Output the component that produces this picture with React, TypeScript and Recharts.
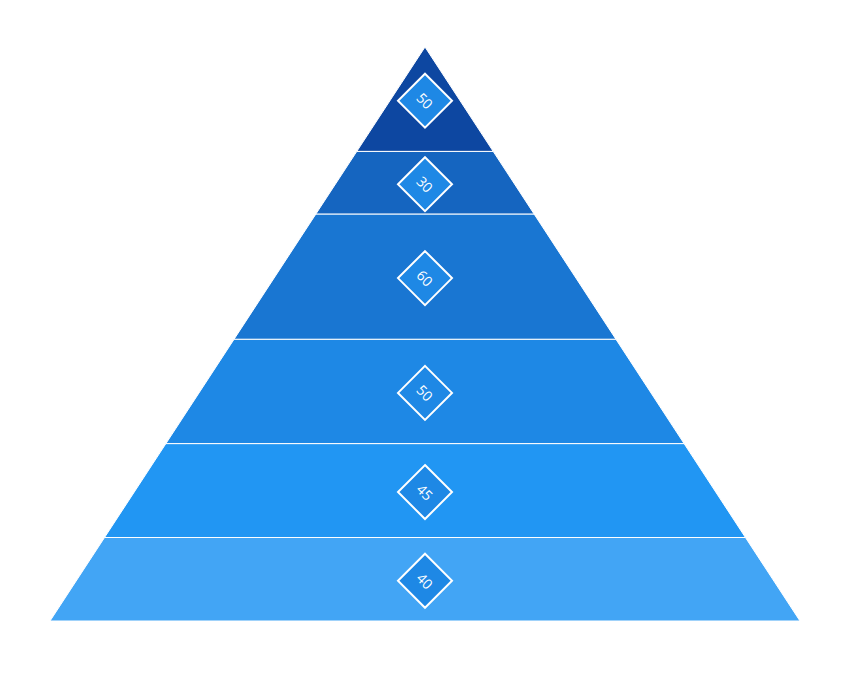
import { BarChart, Bar, XAxis, YAxis } from 'recharts'

// bottom-to-top order (first stacked series sits at the base)
const layerNames = ['L1', 'L2', 'L3', 'L4', 'L5', 'L6']
const layerValues = [40, 45, 50, 60, 30, 50]
const layerColors = ['#42A5F5', '#2196F3', '#1E88E5', '#1976D2', '#1565C0', '#0D47A1']

const total = layerValues.reduce((a, b) => a + b, 0)
const row: Record<string, string | number> = { name: 'pyramid' }
layerNames.forEach((n, i) => (row[n] = layerValues[i]))
const data = [row]

function makeShape(index: number) {
  const below = layerValues.slice(0, index).reduce((a, b) => a + b, 0)
  const above = total - below - layerValues[index]
  return (props: any) => {
    const { x, y, width, height } = props
    if (!height) return null
    const ppu = height / layerValues[index]
    const apexY = y - above * ppu
    const baseY = y + height + below * ppu
    const cx = x + width / 2
    const half = width / 2
    const hw = (yy: number) => ((yy - apexY) / (baseY - apexY)) * half
    const top = y
    const bot = y + height
    const pts = [
      [cx - hw(top), top],
      [cx + hw(top), top],
      [cx + hw(bot), bot],
      [cx - hw(bot), bot],
    ]
      .map((p) => p.join(','))
      .join(' ')
    const cy = y + height / 2 + 1.5
    const d = 27
    return (
      <g>
        <polygon points={pts} fill={layerColors[index]} stroke="#ffffff" strokeWidth={1} />
        <polygon
          points={`${cx},${cy - d} ${cx + d},${cy} ${cx},${cy + d} ${cx - d},${cy}`}
          fill="#1E88E5"
          stroke="#ffffff"
          strokeWidth={2}
        />
        <text
          x={cx}
          y={cy}
          fill="#ffffff"
          fontSize={14}
          fontFamily="'Open Sans', sans-serif"
          textAnchor="middle"
          dominantBaseline="central"
          transform={`rotate(45 ${cx} ${cy})`}
        >
          {layerValues[index]}
        </text>
      </g>
    )
  }
}

export default function App() {
  return (
    <div style={{ width: 834, height: 659 }}>
      <BarChart
        width={834}
        height={659}
        data={data}
        margin={{ top: 39, right: 42, bottom: 46, left: 42 }}
        barCategoryGap={0}
        barGap={0}
      >
        <XAxis dataKey="name" hide />
        <YAxis hide domain={[0, total]} />
        {layerNames.map((n, i) => (
          <Bar key={n} dataKey={n} stackId="p" shape={makeShape(i)} isAnimationActive={false} />
        ))}
      </BarChart>
    </div>
  )
}
